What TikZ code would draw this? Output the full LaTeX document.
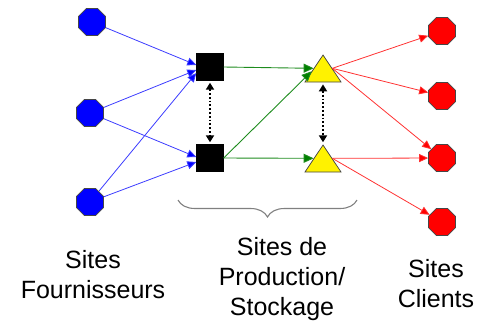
\documentclass[tikz,border=0pt]{standalone}
\usepackage{fontspec}
\setmainfont{Liberation Sans}
\usetikzlibrary{shapes.geometric,arrows.meta,decorations.pathreplacing}

\definecolor{supplyfill}{RGB}{0,0,255}
\definecolor{supplyline}{RGB}{60,60,255}
\definecolor{prodline}{RGB}{30,140,30}
\definecolor{prodhead}{RGB}{0,128,0}
\definecolor{clientfill}{RGB}{255,0,0}
\definecolor{clientline}{RGB}{255,50,50}
\definecolor{edgegray}{RGB}{70,70,70}

\tikzset{
  octo/.style={regular polygon, regular polygon sides=8, minimum size=29.2pt,
    inner sep=0pt, draw=edgegray, line width=0.7pt},
  supplier/.style={octo, fill=supplyfill},
  client/.style={octo, fill=clientfill},
  plant/.style={rectangle, fill=black, draw=black, minimum size=27pt, inner sep=0pt},
  depot/.style={regular polygon, regular polygon sides=3, minimum size=36pt,
    inner sep=0pt, xscale=1.155, fill=yellow, draw=edgegray, line width=0.7pt},
  flowblue/.style={draw=supplyline, line width=0.8pt,
    -{Triangle[length=9pt,width=8pt,fill=supplyfill]}},
  flowgreen/.style={draw=prodline, line width=0.9pt,
    -{Triangle[length=10pt,width=9pt,fill=prodhead]}},
  flowred/.style={draw=clientline, line width=0.8pt,
    -{Triangle[length=9pt,width=8pt,fill=clientfill]}},
  transfer/.style={draw=black, line width=1.8pt, dotted,
    {Triangle[length=7pt,width=8pt]}-{Triangle[length=7pt,width=8pt]},
    shorten <=2pt, shorten >=2pt},
  caption/.style={font=\fontsize{25}{30}\selectfont, align=center, anchor=base,
    inner sep=0pt}
}

\begin{document}
\begin{tikzpicture}[x=1pt,y=-1pt]
\useasboundingbox (0,0) rectangle (485,327);

% suppliers
\node[supplier] (b1) at (92,22) {};
\node[supplier] (b2) at (90,113) {};
\node[supplier] (b3) at (90,202) {};

% production sites
\node[plant] (p1) at (210,67) {};
\node[plant] (p2) at (210,158) {};

% storage sites
\node[depot] (d1) at (323,73) {};
\node[depot] (d2) at (323,163) {};

% clients
\node[client] (c1) at (442,31) {};
\node[client] (c2) at (442,96) {};
\node[client] (c3) at (442,158) {};
\node[client] (c4) at (442,222) {};

% supply flows
\draw[flowblue] (b1) -- ([yshift=2pt]p1.west);
\draw[flowblue] (b2) -- ([yshift=-3pt]p1.west);
\draw[flowblue] (b3) -- ([yshift=-6pt]p1.west);
\draw[flowblue] (b2) -- ([yshift=1pt]p2.west);
\draw[flowblue] (b3) -- ([yshift=-4pt]p2.west);

% production to storage
\draw[flowgreen] (p1.east) -- (d1.150);
\draw[flowgreen] (p2.east) -- (d1.170);
\draw[flowgreen] (p2.east) -- (d2.150);

% distribution to clients
\draw[flowred] (d1.30) -- (c1);
\draw[flowred] (d1.30) -- (c2);
\draw[flowred] (d1.30) -- (c3);
\draw[flowred] (d2.30) -- (c3);
\draw[flowred] (d2.30) -- (c4);

% internal transfers
\draw[transfer] (p1.south) -- (p2.north);
\draw[transfer] (d1.south) -- (d2.corner 1);

% brace under the middle stage
\coordinate (brL) at (178,200);
\coordinate (brR) at (357,200);
\draw[gray, line width=1.1pt,
  decoration={brace, mirror, amplitude=17pt}, decorate] (brL) -- (brR);

% captions (anchored at the baseline of their last line)
\node[caption] (t1) at (93,298) {Sites\\Fournisseurs};
\node[caption] (t2) at (282,315) {Sites de\\Production/\\Stockage};
\node[caption] (t3) at (436,307) {Sites\\Clients};
\end{tikzpicture}
\end{document}
